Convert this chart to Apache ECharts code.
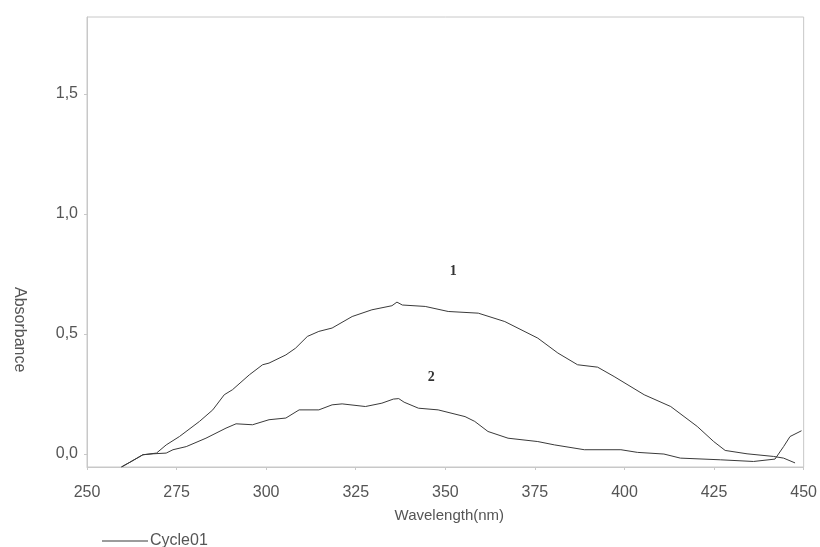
<!DOCTYPE html>
<html>
<head>
<meta charset="utf-8">
<script src="https://cdn.jsdelivr.net/npm/echarts@6/dist/echarts.min.js"></script>
<style>
  html, body { margin: 0; padding: 0; background: #fff; }
  #chart { width: 820px; height: 547px; }
</style>
</head>
<body>
<div id="chart"></div>
<script>
// wavelength (nm) / absorbance
const curve1X = [259.6, 262, 265.6, 269.4, 272.1, 275.8, 281.4, 285.1, 288.3, 290.6, 295.3, 299, 300.8, 305.5, 308.2, 311.5, 314.7, 318.4, 324, 329.5, 335.1, 336.5, 338, 344.4, 350.8, 359.2, 366.6, 375.8, 381.4, 386.9, 392.5, 397.1, 405.5, 412.9, 420.3, 424.9, 428.1, 434.2, 441.6, 444.4, 447.6];
const curve1Y = [-0.055, -0.035, -0.004, 0.003, 0.037, 0.072, 0.135, 0.183, 0.246, 0.267, 0.329, 0.371, 0.378, 0.412, 0.44, 0.489, 0.51, 0.524, 0.572, 0.6, 0.617, 0.632, 0.62, 0.614, 0.593, 0.586, 0.551, 0.482, 0.42, 0.371, 0.361, 0.322, 0.246, 0.197, 0.114, 0.051, 0.014, 0.0, -0.011, -0.018, -0.038];

const curve2X = [259.6, 262, 265.6, 268.5, 272.1, 274, 277.7, 283.2, 288.8, 291.6, 296.2, 300.8, 305.5, 309.2, 314.7, 318.4, 321.2, 327.7, 332.3, 335.5, 337, 338.5, 342.5, 348, 355.5, 358.2, 361.9, 367.5, 375.8, 380.5, 388.8, 399, 403.6, 411, 415.6, 426.8, 436, 442, 444.4, 446.2, 449.4];
const curve2Y = [-0.055, -0.035, -0.004, 0.0, 0.003, 0.017, 0.03, 0.065, 0.107, 0.125, 0.121, 0.142, 0.149, 0.183, 0.183, 0.204, 0.208, 0.197, 0.211, 0.228, 0.23, 0.215, 0.19, 0.183, 0.155, 0.135, 0.093, 0.065, 0.051, 0.037, 0.017, 0.017, 0.006, -0.001, -0.018, -0.025, -0.032, -0.022, 0.03, 0.072, 0.096];

const xTicks = [250, 275, 300, 325, 350, 375, 400, 425, 450];
const yTicks = [0, 0.5, 1.0, 1.5];

// curve labels "1" and "2", placed in data coordinates
const tagNames = ["1", "2"];
const tagCoords = [[352.2, 0.758], [346.1, 0.317]];

const zip = (xs, ys) => xs.map((x, i) => [x, ys[i]]);

const chart = echarts.init(document.getElementById("chart"));

const lineColor = "#3a3a3a";
const textColor = "#555";
const font = "Liberation Sans, Arial, sans-serif";

const options = {
  animation: false,
  backgroundColor: "#fff",
  textStyle: { fontFamily: font },
  grid: {
    left: 87,
    right: 13,
    top: 17,
    bottom: 80,
    show: true,
    borderColor: "#c8c8c8",
    borderWidth: 1,
  },
  legend: {
    data: ["Cycle01"],
    icon: "rect",
    left: 97,
    top: 528,
    itemWidth: 46,
    itemHeight: 1,
    itemGap: 2,
    textStyle: { color: textColor, fontSize: 16, fontFamily: font, padding: [0, 0, 0, -3] },
  },
  xAxis: {
    type: "value",
    min: xTicks[0],
    max: xTicks[xTicks.length - 1],
    interval: 25,
    name: "Wavelength(nm)",
    nameLocation: "middle",
    nameGap: 41,
    nameTextStyle: { color: textColor, fontSize: 15, fontFamily: font, padding: [0, 0, 0, 8] },
    axisLine: { onZero: false, lineStyle: { color: "#c8c8c8" } },
    axisTick: { length: 3, lineStyle: { color: "#c8c8c8" } },
    axisLabel: { color: textColor, fontSize: 16, margin: 18 },
    splitLine: { show: false },
  },
  yAxis: {
    type: "value",
    min: -0.055,
    max: 1.82,
    axisLine: { show: true, lineStyle: { color: "#c8c8c8" } },
    axisTick: { show: true, length: 3, customValues: yTicks, lineStyle: { color: "#c8c8c8" } },
    axisLabel: {
      color: textColor,
      fontSize: 16,
      margin: 9,
      customValues: yTicks,
      formatter: (v) => v.toFixed(1).replace(".", ","),
    },
    splitLine: { show: false },
  },
  graphic: [
    {
      type: "text",
      left: 11,
      top: 287,
      rotation: -Math.PI / 2,
      style: { text: "Absorbance", fill: textColor, font: "16px " + font },
    },
  ],
  series: [
    {
      name: "Cycle01",
      type: "line",
      data: zip(curve1X, curve1Y),
      showSymbol: false,
      symbol: "none",
      lineStyle: { color: lineColor, width: 1 },
      itemStyle: { color: lineColor },
      markPoint: {
        symbol: "circle",
        symbolSize: 0,
        label: {
          show: true,
          position: "inside",
          formatter: (p) => p.name,
          fontFamily: "Liberation Serif, Times New Roman, serif",
          fontWeight: "bold",
          fontSize: 14,
          color: "#333",
        },
        data: tagNames.map((n, i) => ({ name: n, coord: tagCoords[i] })),
      },
    },
    {
      name: "Cycle01",
      type: "line",
      data: zip(curve2X, curve2Y),
      showSymbol: false,
      symbol: "none",
      lineStyle: { color: lineColor, width: 1 },
      itemStyle: { color: lineColor },
    },
  ],
};

chart.setOption(options);
</script>
</body>
</html>
